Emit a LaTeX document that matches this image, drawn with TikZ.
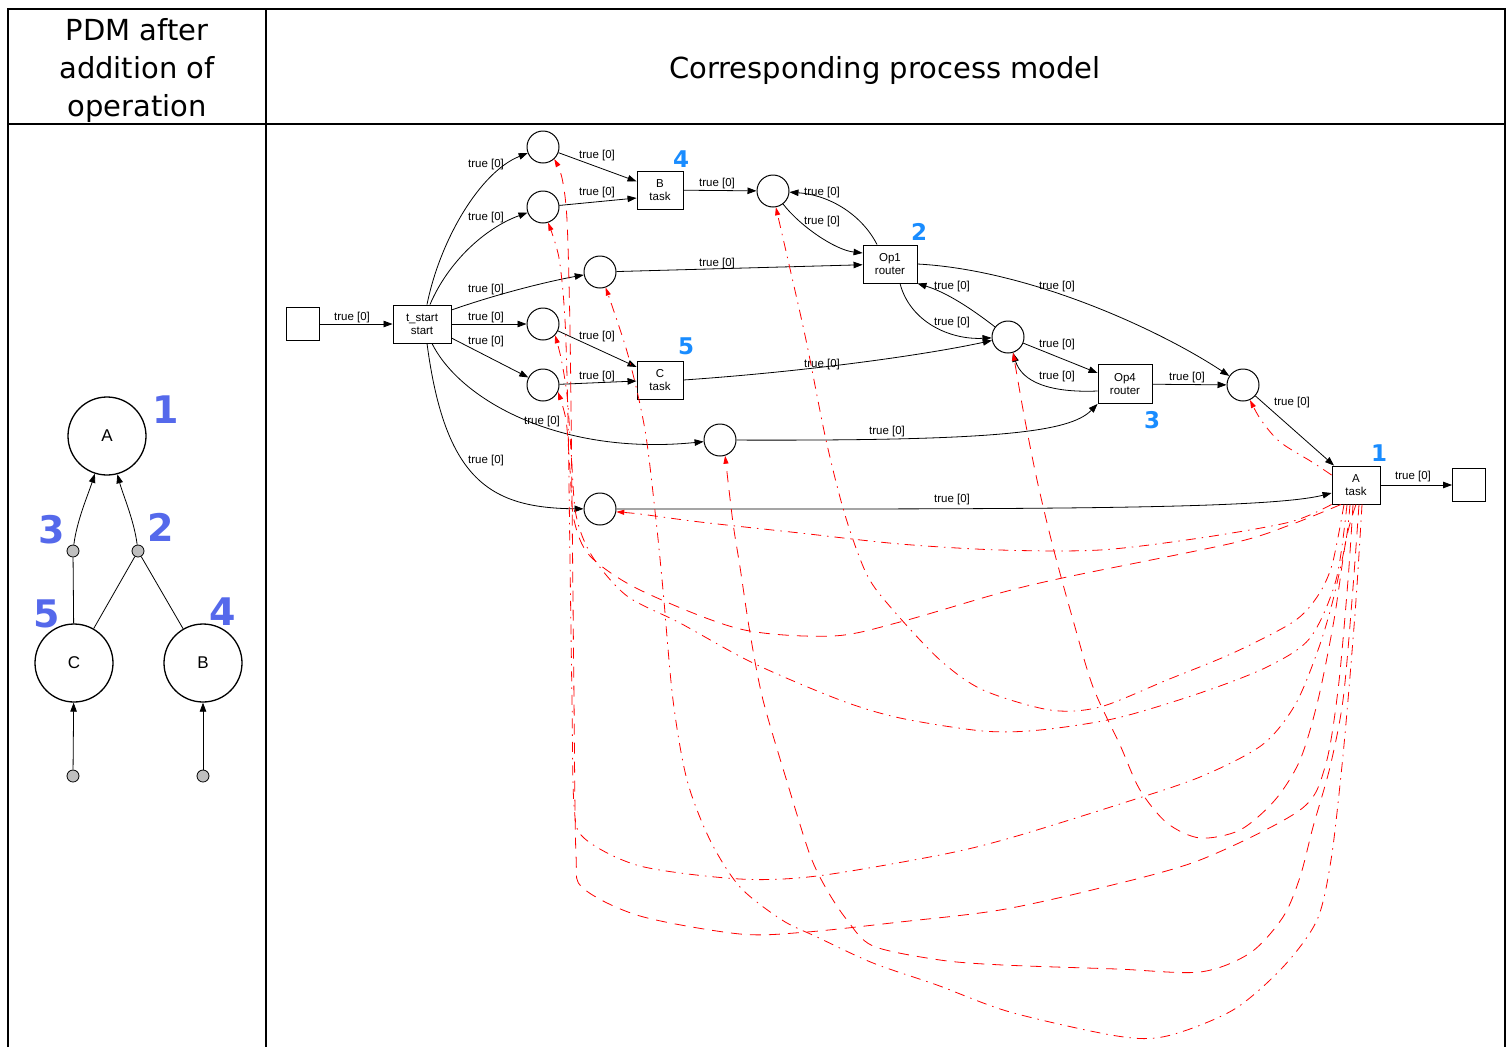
\documentclass[tikz,border=0pt]{standalone}
\usepackage{fontspec}
\setmainfont{DejaVu Sans}
\newfontfamily\smallsans{Liberation Sans}
\usetikzlibrary{arrows.meta}
\definecolor{numblue}{RGB}{25,140,255}
\definecolor{pdmblue}{RGB}{85,105,235}

\begin{document}
\begin{tikzpicture}[x=1pt, y=-1pt,
    placenode/.style={shape=circle, draw=black, line width=1pt, minimum size=32pt, inner sep=0pt},
    taskbox/.style={draw=black, line width=0.9pt, minimum width=46pt, minimum height=38pt, inner sep=0pt, align=center, font=\smallsans\fontsize{11.5}{13}\selectfont},
    endbox/.style={draw=black, line width=0.9pt, minimum size=33pt, inner sep=0pt},
    truelbl/.style={font=\smallsans\fontsize{11.5}{13}\selectfont, inner sep=0pt},
    numlbl/.style={font=\bfseries\fontsize{23}{23}\selectfont, text=numblue, inner sep=0pt},
    pdmnum/.style={font=\bfseries\fontsize{38}{38}\selectfont, text=pdmblue, inner sep=0pt},
    pdmcirc/.style={shape=circle, draw=black, line width=1.3pt, minimum size=78pt, inner sep=0pt, font=\smallsans\fontsize{17}{17}\selectfont},
    pdmdot/.style={shape=circle, draw=black, fill=black!25, line width=0.8pt, minimum size=12pt, inner sep=0pt},
    edgearr/.style={line width=0.8pt, -{Triangle[length=9pt,width=6.5pt]}},
    redarr/.style={red, line width=0.8pt, -{Triangle[length=8pt,width=5pt]}},
    reddashdot/.style={dash pattern=on 10pt off 6pt on 1.5pt off 6pt},
    reddash/.style={dash pattern=on 11pt off 8pt},
]
    \useasboundingbox (0,0) rectangle (1511,1047);

    % table
    \draw[line width=1.6pt] (8,1047) -- (8,9) -- (1505,9) -- (1505,1047);
    \draw[line width=1.6pt] (266,9) -- (266,1047);
    \draw[line width=1.6pt] (8,124) -- (1505,124);
    \node[font=\fontsize{29}{38}\selectfont, align=center] (hdrleft) at (137,70) {PDM after\\addition of\\operation};
    \node[font=\fontsize{29}{38}\selectfont] (hdrright) at (885,70) {Corresponding process model};

    % PDM
    \node[pdmcirc] (Acirc) at (107,436) {A};
    \node[pdmcirc] (Ccirc) at (74,663) {C};
    \node[pdmcirc] (Bcirc) at (203,663) {B};
    \node[pdmdot] (d3) at (73,551) {};
    \node[pdmdot] (d2) at (138,551) {};
    \node[pdmdot] (d5) at (73,776) {};
    \node[pdmdot] (d4) at (203,776) {};
    \draw[edgearr] (d3) .. controls (77,520) and (88,495) .. (Acirc);
    \draw[edgearr] (d2) .. controls (134,520) and (123,495) .. (Acirc);
    \draw[line width=0.8pt] (d3) -- (Ccirc);
    \draw[line width=0.8pt] (d2) -- (Ccirc);
    \draw[line width=0.8pt] (d2) -- (Bcirc);
    \draw[edgearr] (d5) -- (Ccirc);
    \draw[edgearr] (d4) -- (Bcirc);
    \node[pdmnum] (m1) at (166,410) {1};
    \node[pdmnum] (m3) at (52,530) {3};
    \node[pdmnum] (m2) at (161,527) {2};
    \node[pdmnum] (m5) at (47,614) {5};
    \node[pdmnum] (m4) at (223,612) {4};

    % process model
    \node[endbox] (src) at (303,324) {};
    \node[taskbox, minimum width=58pt] (Tstart) at (422,324) {t\_start\\start};
    \node[placenode] (P1) at (543,147) {};
    \node[placenode] (P2) at (543,207) {};
    \node[placenode] (P3) at (600,272) {};
    \node[placenode] (P4) at (543,324) {};
    \node[placenode] (P5) at (543,385) {};
    \node[placenode] (P6) at (720,440) {};
    \node[placenode] (P7) at (600,509) {};
    \node[placenode] (P8) at (773,191) {};
    \node[placenode] (P9) at (1008,337) {};
    \node[placenode] (P10) at (1243,385) {};
    \node[taskbox] (Btask) at (660,190) {B\\task};
    \node[taskbox] (Ctask) at (660,380) {C\\task};
    \node[taskbox, minimum width=54pt] (Op1) at (890,264) {Op1\\router};
    \node[taskbox, minimum width=54pt, minimum height=39pt] (Op4) at (1125,384) {Op4\\router};
    \node[taskbox, minimum width=48pt] (Atask) at (1356,485) {A\\task};
    \node[endbox] (sink) at (1469,485) {};

    \draw[edgearr] (src) -- (Tstart);
    \draw[edgearr] ([xshift=5pt]Tstart.north) .. controls (440,240) and (480,172) .. (P1);
    \draw[edgearr] ([xshift=8pt]Tstart.north) .. controls (448,262) and (485,228) .. (P2);
    \draw[edgearr] ([yshift=14pt]Tstart.east) .. controls (500,293) and (550,281) .. (P3);
    \draw[edgearr] (Tstart.east) -- (P4);
    \draw[edgearr] ([yshift=-14pt]Tstart.east) -- (P5);
    \draw[edgearr] ([xshift=10pt]Tstart.south) .. controls (460,400) and (560,456) .. (P6);
    \draw[edgearr] ([xshift=5pt]Tstart.south) .. controls (445,480) and (490,508) .. (P7);
    \draw[edgearr] (P1) -- (Btask);
    \draw[edgearr] (P2) -- ([yshift=-8pt]Btask.west);
    \draw[edgearr] (P4) -- ([yshift=13pt]Ctask.west);
    \draw[edgearr] (P5) -- (Ctask);
    \draw[edgearr] (Btask) -- (P8);
    \draw[edgearr] (P8) .. controls (800,226) and (835,250) .. ([yshift=11pt]Op1.west);
    \draw[edgearr] ([xshift=-13pt]Op1.north) .. controls (862,215) and (830,195) .. (P8);
    \draw[edgearr] (P3) -- (Op1);
    \draw[edgearr] (Op1.east) .. controls (1030,270) and (1160,330) .. (P10);
    \draw[edgearr] (P9) .. controls (968,306) and (945,292) .. (Op1.south east);
    \draw[edgearr] ([xshift=10pt]Op1.south) .. controls (910,322) and (950,340) .. (P9);
    \draw[edgearr] (Ctask.east) .. controls (800,372) and (920,356) .. (P9);
    \draw[edgearr] (P9) -- (Op4);
    \draw[edgearr] ([yshift=-7pt]Op4.west) .. controls (1050,393) and (1022,382) .. (P9);
    \draw[edgearr] (Op4) -- (P10);
    \draw[edgearr] (P6) .. controls (1000,441) and (1070,432) .. (Op4.south west);
    \draw[edgearr] (P10) -- (Atask);
    \draw[edgearr] (P7) .. controls (1000,509) and (1265,510) .. ([yshift=-8pt]Atask.west);
    \draw[edgearr] (Atask) -- (sink);

    \node[truelbl] (lb1) at (352,318) {true [0]};
    \node[truelbl] (lb2) at (486,165) {true [0]};
    \node[truelbl] (lb3) at (486,218) {true [0]};
    \node[truelbl] (lb4) at (486,290) {true [0]};
    \node[truelbl] (lb5) at (486,318) {true [0]};
    \node[truelbl] (lb6) at (486,342) {true [0]};
    \node[truelbl] (lb7) at (542,422) {true [0]};
    \node[truelbl] (lb8) at (486,461) {true [0]};
    \node[truelbl] (lb9) at (597,156) {true [0]};
    \node[truelbl] (lb10) at (597,193) {true [0]};
    \node[truelbl] (lb11) at (597,337) {true [0]};
    \node[truelbl] (lb12) at (597,377) {true [0]};
    \node[truelbl] (lb13) at (717,184) {true [0]};
    \node[truelbl] (lb14) at (822,193) {true [0]};
    \node[truelbl] (lb15) at (822,222) {true [0]};
    \node[truelbl] (lb16) at (717,264) {true [0]};
    \node[truelbl] (lb17) at (952,287) {true [0]};
    \node[truelbl] (lb18) at (952,323) {true [0]};
    \node[truelbl] (lb19) at (1057,287) {true [0]};
    \node[truelbl] (lb20) at (822,365) {true [0]};
    \node[truelbl] (lb21) at (1057,345) {true [0]};
    \node[truelbl] (lb22) at (1057,377) {true [0]};
    \node[truelbl] (lb23) at (1187,378) {true [0]};
    \node[truelbl] (lb24) at (887,432) {true [0]};
    \node[truelbl] (lb25) at (1292,403) {true [0]};
    \node[truelbl] (lb26) at (952,500) {true [0]};
    \node[truelbl] (lb27) at (1413,477) {true [0]};

    \node[numlbl] (n4) at (681,159) {4};
    \node[numlbl] (n2) at (919,232) {2};
    \node[numlbl] (n5) at (686,346) {5};
    \node[numlbl] (n3) at (1152,420) {3};
    \node[numlbl] (n1) at (1379,453) {1};

    % red links from A task back to the places
    \draw[redarr, reddashdot] plot[smooth] coordinates {([yshift=10pt]Atask.west) (1312,462) (1280,442) (1261,420) (P10.-65)};
    \draw[redarr, reddashdot] plot[smooth] coordinates {(Atask.south west) (1290,522) (1200,538) (1100,550) (1000,550) (900,544) (800,533) (700,522) (640,514) (P7.-10)};
    \draw[redarr, reddash] plot[smooth] coordinates {([xshift=-15pt]Atask.south) (1290,525) (1233,543) (1067,577) (1000,593) (900,622) (833,636) (740,629) (640,590) (590,556) (574,520) (570,470) (566,420) (P5.-25)};
    \draw[redarr, reddashdot] plot[smooth] coordinates {([xshift=-9pt]Atask.south) (1336,580) (1310,638) (1267,667) (1200,693) (1117,718) (1040,730) (983,731) (900,718) (840,700) (753,663) (680,623) (627,596) (592,556) (576,515) (571,450) (567,395) (561,358) (P4.-43)};
    \draw[redarr, reddashdot] plot[smooth] coordinates {([xshift=-6pt]Atask.south) (1346,540) (1333,600) (1318,650) (1295,705) (1262,745) (1200,777) (1120,804) (1010,838) (940,855) (817,876) (740,879) (640,866) (584,838) (574,805) (572,700) (570,560) (568,420) (565,320) (559,258) (P2.-72)};
    \draw[redarr, reddash] plot[smooth] coordinates {([xshift=-3pt]Atask.south) (1348,580) (1338,690) (1325,767) (1300,810) (1200,860) (1100,888) (1000,910) (900,922) (807,932) (740,934) (640,916) (583,888) (576,855) (574,700) (572,500) (570,330) (567,220) (562,178) (P1.-47)};
    \draw[redarr, reddashdot] plot[smooth] coordinates {([xshift=-12pt]Atask.south) (1332,565) (1317,597) (1293,622) (1233,653) (1167,680) (1100,707) (1050,710) (983,690) (940,660) (893,610) (867,575) (845,515) (826,440) (806,340) (788,260) (P8.-80)};
    \draw[redarr, reddash] plot[smooth] coordinates {(Atask.south) (1346,540) (1334,620) (1318,700) (1300,760) (1275,800) (1240,830) (1200,838) (1167,823) (1140,790) (1120,745) (1093,687) (1073,620) (1053,547) (1037,480) (1024,415) (P9.-72)};
    \draw[redarr, reddash] plot[smooth] coordinates {([xshift=3pt]Atask.south) (1352,600) (1343,700) (1330,767) (1313,827) (1300,877) (1283,917) (1250,953) (1200,972) (1117,969) (1003,965) (940,960) (873,946) (847,920) (827,890) (810,855) (788,785) (763,700) (750,633) (740,567) (733,523) (P6.-72)};
    \draw[redarr, reddashdot] plot[smooth] coordinates {([xshift=6pt]Atask.south) (1356,600) (1348,700) (1341,775) (1331,860) (1317,920) (1283,967) (1233,1010) (1167,1036) (1117,1036) (1010,1012) (937,985) (873,963) (817,937) (782,920) (740,887) (710,840) (687,780) (673,700) (663,590) (656,520) (645,430) (628,355) (P3.-70)};
\end{tikzpicture}
\end{document}
